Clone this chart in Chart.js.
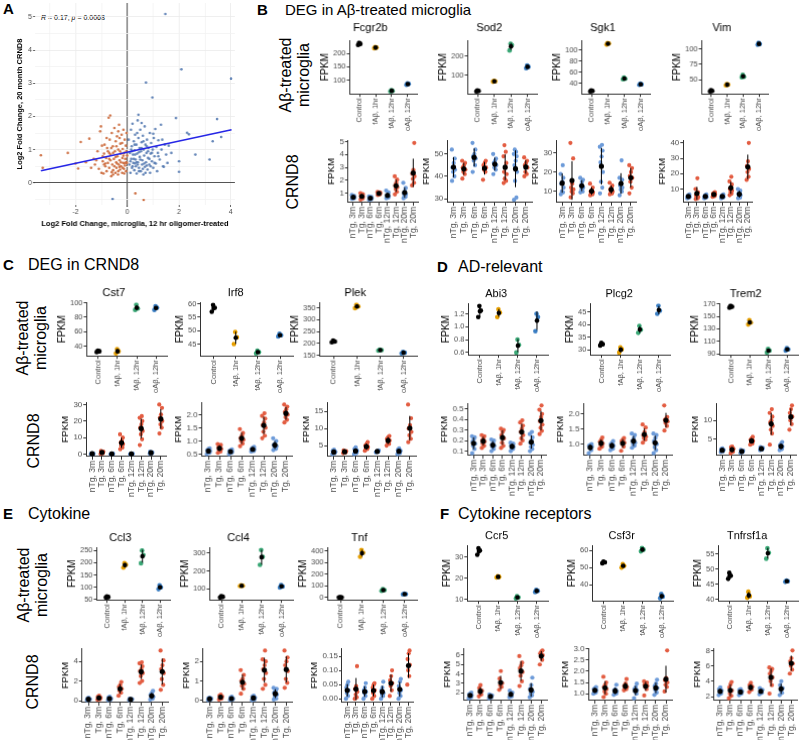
<!DOCTYPE html>
<html>
<head>
<meta charset="utf-8">
<script src="https://cdn.jsdelivr.net/npm/chart.js@4.4.1/dist/chart.umd.min.js"></script>
<style>
body { margin: 0; background: #fff; width: 799px; height: 740px; overflow: hidden; position: relative; font-family: "Liberation Sans", Arial, sans-serif; }
.box { position: absolute; }
.lbl { position: absolute; white-space: nowrap; color: #000; line-height: 1; }
.pl { font-weight: bold; font-size: 15px; }
.hd { font-size: 16px; }
.row { position: absolute; font-size: 16px; line-height: 18px; text-align: center; white-space: nowrap; transform: translate(-50%, -50%) rotate(-90deg); }
.note { position: absolute; font-size: 7px; color: #000; white-space: nowrap; }
</style>
</head>
<body>
<div class="lbl pl" style="left:3px;top:1px">A</div>
<div class="note" style="left:41px;top:14px"><i>R</i> = 0.17, <i>p</i> = 0.0068</div>

<div class="lbl pl" style="left:257px;top:2px">B</div>
<div class="lbl hd" style="left:285px;top:2px;font-size:15px">DEG in Aβ-treated microglia</div>
<div class="row" style="left:295px;top:75px">Aβ-treated<br>microglia</div>
<div class="row" style="left:293px;top:182px">CRND8</div>

<div class="lbl pl" style="left:3px;top:257px">C</div>
<div class="lbl hd" style="left:28px;top:257px">DEG in CRND8</div>
<div class="row" style="left:32px;top:338px">Aβ-treated<br>microglia</div>
<div class="row" style="left:34px;top:441px">CRND8</div>

<div class="lbl pl" style="left:437px;top:259px">D</div>
<div class="lbl hd" style="left:458px;top:259px">AD-relevant</div>

<div class="lbl pl" style="left:3px;top:506px">E</div>
<div class="lbl hd" style="left:28px;top:506px">Cytokine</div>
<div class="row" style="left:33px;top:585px">Aβ-treated<br>microglia</div>
<div class="row" style="left:33px;top:682px">CRND8</div>

<div class="lbl pl" style="left:440px;top:506px">F</div>
<div class="lbl hd" style="left:458px;top:506px">Cytokine receptors</div>

<script>
// Category labels
const mgCats = ['Control', 'fAβ, 1hr', 'fAβ, 12hr', 'oAβ, 12hr'];
const crCats = ['nTg, 3m', 'Tg, 3m', 'nTg, 6m', 'Tg, 6m', 'nTg, 12m', 'Tg, 12m', 'nTg, 20m', 'Tg, 20m'];

// Panel A: log2 fold change, [microglia 12hr oligomer, CRND8 20 month]
const orangePts = [
  [-3.34,0.83],[-3.27,0.45],[-2.3,0.9],[-2.0,0.58],[-1.9,0.43],[-1.8,1.23],[-1.47,1.33],[-1.6,0.62],[-1.4,0.45],[-1.3,0.72],
  [-1.25,0.55],[-1.15,0.95],[-1.1,0.42],[-1.05,1.55],[-1.02,1.7],[-0.98,1.12],[-0.95,0.65],[-0.92,0.28],[-0.9,0.88],[-0.88,1.15],
  [-0.85,0.5],[-0.82,0.75],[-0.8,0.35],[-0.78,1.05],[-0.75,0.6],[-0.72,1.96],[-0.7,0.45],[-0.68,1.3],[-0.66,2.03],[-0.65,0.85],
  [-0.62,0.2],[-0.6,1.5],[-0.58,0.55],[-0.56,1.1],[-0.55,0.38],[-0.52,0.72],[-0.5,1.65],[-0.48,0.95],[-0.46,0.3],[-0.45,1.25],
  [-0.43,0.62],[-0.42,0.45],[-0.4,1.4],[-0.38,0.8],[-0.36,0.25],[-0.35,1.0],[-0.33,0.55],[-0.32,1.75],[-0.3,0.68],[-0.28,0.4],
  [-0.27,1.18],[-0.25,0.88],[-0.24,0.5],[-0.22,1.45],[-0.2,0.3],[-0.19,0.75],[-0.18,1.02],[-0.16,0.6],[-0.15,1.6],[-0.13,0.42],
  [-0.12,0.9],[-0.1,1.3],[-0.09,0.52],[-0.08,0.72],[-0.06,1.12],[-0.05,0.35],[-0.04,0.95],[-0.03,1.5],[-0.02,0.6],[-0.01,0.82],
  [-0.85,0.58],[-0.7,0.72],[-0.55,0.9],[-0.4,0.58],[-0.28,0.95],[-0.62,1.05],[-0.18,0.45],[-0.35,1.55],[-1.2,0.68],[-0.95,0.8],
  [-0.9,0.55],[-0.75,0.95],[-0.6,0.32],[-0.45,0.78],[-0.3,0.48],[-0.15,0.82],[-0.05,0.62],[-0.5,0.5],[-0.25,0.62],[-0.65,0.68],
  [-1.0,0.3],[-0.35,0.35],[-0.2,1.2],[-0.1,0.58],[-0.8,1.35],[-0.42,1.1],[-0.55,0.25],[-0.12,0.28],[-0.7,0.9],[-0.3,1.35],
  [0.31,-0.32],[0.63,-0.52]
];
const bluePts = [
  [-0.57,-0.49],[0.05,1.3],[0.08,0.55],[0.1,0.9],[0.12,0.3],[0.14,1.6],[0.15,0.72],[0.17,1.1],[0.18,0.45],[0.2,1.78],
  [0.22,0.85],[0.23,0.6],[0.25,1.25],[0.27,0.38],[0.28,0.98],[0.3,1.45],[0.32,0.7],[0.33,0.5],[0.35,1.15],[0.36,0.28],
  [0.38,0.88],[0.4,1.88],[0.41,0.62],[0.43,1.35],[0.43,2.05],[0.45,0.45],[0.47,1.05],[0.48,0.78],[0.5,1.6],[0.52,0.35],
  [0.53,0.95],[0.55,1.22],[0.57,0.55],[0.58,0.68],[0.6,1.42],[0.62,0.25],[0.63,1.0],[0.65,0.82],[0.67,1.7],[0.68,0.48],
  [0.7,1.15],[0.72,3.02],[0.72,0.62],[0.74,0.9],[0.76,1.3],[0.78,0.4],[0.8,0.75],[0.82,1.05],[0.85,0.55],[0.87,1.5],
  [0.88,0.3],[0.9,0.88],[0.92,1.2],[0.95,0.65],[0.97,2.57],[0.98,1.0],[1.0,0.45],[1.02,1.35],[1.05,0.8],[1.08,1.62],
  [1.1,0.58],[1.12,1.08],[1.15,0.35],[1.18,0.9],[1.2,1.28],[1.25,0.7],[1.3,1.75],[1.32,1.0],[1.38,0.5],[1.41,0.48],
  [1.45,1.15],[1.47,5.09],[1.5,0.85],[1.55,0.6],[1.6,1.12],[1.7,0.9],[1.88,1.95],[2.0,0.65],[2.0,0.33],[2.09,3.42],
  [2.31,1.51],[2.38,1.46],[2.63,0.85],[3.18,0.70],[3.3,1.25],[3.47,1.92],[3.63,1.38],[4.01,3.14],[0.15,1.0],[0.3,0.58],
  [0.45,0.92],[0.6,0.42],[0.75,1.1],[0.25,0.72],[0.55,1.8],[0.35,0.62],[1.0,1.48],[0.8,0.95],[0.2,0.5],[0.4,0.55],
  [0.5,0.7],[0.65,0.58],[0.85,0.72],[0.3,0.85],[0.55,1.05],[0.7,0.3],[0.95,0.9],[1.05,0.6],[0.12,0.65],[0.38,1.5],
  [0.62,1.25],[0.18,0.95],[0.9,0.5],[1.2,0.8],[0.45,0.35],[0.75,0.52],[1.35,1.3],[0.28,1.15]
];
const fitX = [-3.34, 4.03];
const fitY = [0.36, 1.6];
const aXTicks = [-3, -2, -1, 0, 1, 2, 3, 4];
const aXLabels = ['', '-2', '', '0', '', '2', '', '4'];
const aYTicks = [-0.5, 0, 0.5, 1, 1.5, 2, 2.5, 3, 3.5, 4, 4.5, 5];
const aYLabels = ['', '0', '', '1', '', '2', '', '3', '', '4', '', '5'];
const aXRange = [-3.57, 4.16];
const aYRange = [-0.67, 5.42];

// B: DEG in Abeta-treated microglia (FPKM per group)
const fcgr2bMg = [[232,236,240],[220,222,224],[58,60,63],[83,86,88]];
const sod2Mg = [[17,20,23],[68,70,72],[230,258,265],[138,145,152]];
const sgk1Mg = [[25,26,27],[110,112,113],[47,48,50],[37,38,39]];
const vimMg = [[31,32,33],[41,42,43],[54,55,58],[107,108,110]];
const fcgr2bMgY = [100,150,200];
const sod2MgY = [100,200];
const sgk1MgY = [40,60,80,100];
const vimMgY = [50,75,100];

const fcgr2bCr = [
  [0.55,0.6,0.62,0.65,0.68,0.72,0.78,0.85],[0.5,0.58,0.65,0.72,0.78,0.85,0.92,1.0],
  [0.48,0.52,0.56,0.6,0.63,0.66,0.7,0.75],[0.85,0.9,0.95,0.98,1.0,1.03,1.06,1.1],
  [0.6,0.65,0.7,0.75,0.8,0.88,1.05,1.2],[0.9,1.1,1.3,1.45,1.6,1.8,2.05,2.3],
  [0.6,0.7,0.8,0.9,1.0,1.15,1.4,1.8],[1.6,1.8,2.1,2.3,2.5,2.8,4.9]];
const sod2Cr = [
  [38,40,42,43,44,46,48,52],[39,41,42,43,44,45,46,47],[42,45,47,48,49,50,52,55],[38.5,42,43,44,45,46,47],
  [41,43,44,45,46,47,48,50],[37,38,39,41,42,44,46,49,51,54],[29.5,30.5,38,42,45,47,49,50,51,52],[40,41,42,44,45,46,47,48.5]];
const sgk1Cr = [
  [8.5,9.5,10,12,14,15,17,19,23.5],[7,9,10,11,12,14,27,35],[9.5,10,11,12,13,15,16,17],[8,8.5,9,9.5,10,10.5,12,14],
  [9,12,15,20,25,28,31,33,34],[8.5,9,9.5,10,11,12,13,14.5],[8,10,11,12,13,14,16,17,26],[9,12,15,17,18,20,22,23.5]];
const vimCr = [
  [4,4.5,5,5,5.5,6,6.5],[3.5,4,4.5,5,6,7,8,10,17],[4,4.5,5,5,5.5,6,6.5],[5,5.5,6,6.5,7,7.5,8],
  [4,4.5,5,5,5.5,6,6.5],[6,7,8,9,10,11,13,15,18],[4,4.5,5,6,7,8,9,10],[16,18,21,23,25,28,40]];
const fcgr2bCrY = [1,2,3,4,5];
const sod2CrY = [30,40,50];
const sgk1CrY = [10,20,30];
const vimCrY = [10,20,30,40];

// C: DEG in CRND8
const cst7Mg = [[32,33,34],[30,33,36],[90,92,97],[90,93,95]];
const irf8Mg = [[57,58.5,59.5],[45,47.5,49.5],[41.5,42,42.5],[47.8,48.3,48.8]];
const plekMg = [[205,208,212],[348,355,362],[170,172,174],[158,161,164]];
const cst7MgY = [40,60,80,100];
const irf8MgY = [45,50,55,60];
const plekMgY = [150,200,250,300,350];

const cst7Cr = [
  [0,0.1,0.2,0.3,0.4],[0.2,0.5,1,1.5,2],[0,0.1,0.2,0.3],[3,4,5,6,7,8,10,12],
  [0,0.1,0.2,0.3],[5.5,9,12,14,16,18,20,22,23],[0.3,0.5,0.8,1,1.5],[12.5,16,18,20,22,24,28,30]];
const irf8Cr = [
  [0.5,0.55,0.6,0.62,0.65,0.7,0.72],[0.55,0.6,0.65,0.7,0.75,0.8,0.85,0.88],[0.5,0.55,0.58,0.6,0.62,0.65,0.68],
  [0.8,0.9,1.0,1.05,1.1,1.2,1.3,1.45],[0.6,0.62,0.65,0.68,0.7,0.75,0.78],[1.1,1.2,1.35,1.5,1.6,1.7,1.85,1.95,2.05],
  [0.65,0.7,0.75,0.8,0.85,0.9,1.0,1.1],[1.7,1.8,1.9,2.0,2.1,2.2,2.3,2.38]];
const plekCr = [
  [2.5,2.8,3,3.2,3.5,3.8],[2.8,3,3.2,3.4,3.6],[2.5,2.8,3.2,3.5,4,4.5],[3.5,4,4.3,4.6,5,5.5,6],
  [3,3.2,3.4,3.6],[5,5.5,6,6.5,7,7.5,7.8],[2.5,2.8,3.2,3.5,3.8,4.2],[6,7,8,9,10,11,13,17]];
const cst7CrY = [0,10,20,30];
const irf8CrY = [0.5,1.0,1.5,2.0];
const plekCrY = [5,10,15];

// D: AD-relevant
const abi3Mg = [[1.15,1.25,1.32],[1.15,1.22,1.27],[0.6,0.72,0.8],[0.93,1.15,1.2]];
const plcg2Mg = [[31.8,32.3,32.8],[29,30.3,31],[36.8,38,39.5],[44.3,45.5,47.5]];
const trem2Mg = [[164,165.5,167],[137,140,144],[92,95,98],[95,97,99]];
const abi3MgY = [0.6,0.8,1.0,1.2];
const plcg2MgY = [30,35,40,45];
const trem2MgY = [90,110,130,150,170];

const abi3Cr = [
  [0.08,0.12,0.15,0.17,0.19,0.21,0.23,0.24],[0.13,0.15,0.17,0.19,0.2,0.22,0.24,0.25],
  [0.1,0.12,0.14,0.15,0.16,0.18,0.2,0.21],[0.13,0.15,0.18,0.22,0.25,0.28,0.3,0.31],
  [0.1,0.12,0.13,0.14,0.15,0.16,0.17,0.18],[0.17,0.2,0.22,0.25,0.28,0.31,0.34,0.37,0.39],
  [0.1,0.12,0.14,0.16,0.18,0.2,0.23,0.26,0.28],[0.26,0.29,0.32,0.35,0.38,0.42,0.45,0.49,0.53]];
const plcg2Cr = [
  [0.7,0.8,0.88,0.92,0.95,0.98,1.0],[0.85,0.92,0.98,1.02,1.08,1.15,1.22],[0.8,0.85,0.9,0.95,1.0,1.05,1.1],
  [0.78,0.92,1.0,1.05,1.1,1.15,1.2],[0.88,0.95,1.0,1.05,1.1,1.2,1.3,1.35],[1.05,1.15,1.2,1.25,1.3,1.4,1.55,1.65],
  [0.7,0.8,0.9,1.0,1.1,1.2,1.3,1.35],[1.45,1.6,1.7,1.75,1.8,1.85,1.9,2.28]];
const trem2Cr = [
  [1.5,1.7,1.9,2.1,2.3,2.5],[1.2,1.6,2,2.4,2.8,3],[1.3,1.5,1.7,1.9,2.1],[3.5,3.8,4.2,4.5,4.8,5.2,5.6],
  [2.0,2.2,2.4,2.6,2.8],[3.5,6.5,7.5,8.5,9.5,10,11,12,13],[2,2.3,2.6,3,3.4,3.8,4.2],[7.5,9,10,11,12,13,14]];
const abi3CrY = [0.1,0.2,0.3,0.4,0.5];
const plcg2CrY = [1.0,1.5,2.0];
const trem2CrY = [5,10];

// E: Cytokine
const ccl3Mg = [[58,60,62],[180,192,198],[198,232,250],[92,100,108]];
const ccl4Mg = [[52,56,60],[116,118,120],[235,280,318],[108,114,122]];
const tnfMg = [[1,2,3],[350,385,408],[58,65,72],[28,30,33]];
const ccl3MgY = [50,100,150,200,250];
const ccl4MgY = [100,200,300];
const tnfMgY = [0,100,200,300,400];

const ccl3Cr = [
  [0.05,0.1,0.12,0.15,0.2,0.3],[0.1,0.15,0.2,0.3,0.4,0.5],[0.05,0.1,0.15,0.2,0.3,0.4],[0.5,0.8,1,1.2,1.4,1.6,1.9],
  [0.05,0.1,0.12,0.15,0.2],[1.8,2.0,2.5,2.8,3,3.2,3.5,3.8,3.9],[0.1,0.2,0.3,0.4,0.6,0.8,1.0],[1.1,1.6,2.2,2.8,3.2,3.6,4.1,5.1]];
const ccl4Cr = [
  [0.02,0.05,0.08,0.1,0.12,0.15],[0.05,0.1,0.15,0.2,0.25,0.3],[0.02,0.05,0.08,0.1,0.15,0.2],[0.35,0.6,0.75,0.85,1.0,1.1,1.3,1.55],
  [0.02,0.05,0.1,0.15,0.2,0.25],[0.6,0.8,1.1,1.4,1.6,1.8,2.0,2.1,2.55],[0.05,0.1,0.2,0.3,0.4,0.5,0.6,0.65],[0.65,0.9,1.1,1.5,1.8,2.0,2.2,2.55]];
const tnfCr = [
  [0,0.01,0.02,0.03,0.04,0.05,0.06],[0,0.005,0.015,0.025,0.035,0.045,0.115],[0,0.01,0.02,0.025,0.03,0.04,0.055],
  [0,0.01,0.02,0.03,0.04,0.05,0.055],[0,0.01,0.015,0.02,0.03,0.04,0.06],[0.01,0.03,0.045,0.055,0.065,0.08,0.1],
  [0,0.01,0.02,0.03,0.045,0.06,0.07],[0.05,0.08,0.1,0.12,0.14,0.16,0.17]];
const ccl3CrY = [0,1,2,3,4,5];
const ccl4CrY = [0,1,2];
const tnfCrY = [0,0.05,0.10,0.15];

// F: Cytokine receptors
const ccr5Mg = [[31,33,34],[20.3,20.6,20.9],[10.5,11,11.5],[13.5,14,14.5]];
const csf3rMg = [[52.5,53,53.5],[50,51,52],[59.5,60.5,61.5],[32,33,34.5]];
const tnfrsf1aMg = [[46.8,47.8,48.8],[40.5,41,42.5],[53.5,55.5,57],[45.8,46,46.2]];
const ccr5MgY = [10,15,20,25,30,35];
const csf3rMgY = [40,50,60];
const tnfrsf1aMgY = [40,45,50,55];

const ccr5Cr = [
  [1.4,1.5,1.6,1.7,1.8,1.9,2.0],[1.6,1.8,2,2.2,2.5,2.8],[1.4,1.5,1.6,1.7,1.8],[2.3,2.6,2.8,3,3.5,4.3],
  [1.5,1.6,1.8,2,2.2],[2.7,3.2,3.8,4.2,4.6,4.9,5.2,5.9],[1.5,1.7,1.9,2.1,2.4,2.8,3.6],[5,5.5,5.8,6,6.2,6.4,6.5]];
const csf3rCr = [
  [1.0,1.05,1.1,1.15,1.2,1.25,1.3],[0.85,1.0,1.1,1.2,1.3,1.4,1.5,1.75],[0.95,1.0,1.05,1.1,1.15,1.2,1.4],
  [1.15,1.2,1.25,1.3,1.35,1.45,1.65],[0.8,1.0,1.1,1.15,1.2,1.3,1.45],[0.92,1.2,1.3,1.35,1.4,1.45,1.5,1.55],
  [0.95,1.05,1.15,1.25,1.35,1.45,1.62],[1.1,1.3,1.4,1.5,1.6,1.7,2.92]];
const tnfrsf1aCr = [
  [2.2,2.4,2.6,2.8,3.0,3.2],[1.8,2.1,2.4,2.8,3.2,3.6,3.9],[2.2,2.4,2.5,2.7,2.9,3.0],[2.6,2.9,3.1,3.3,3.5,3.8],
  [2.3,2.5,2.7,2.9,3.1],[2.4,3.5,4,4.5,5,5.3,5.6,5.8],[2.2,2.5,2.8,3.1,3.5,4],[5,5.5,6,6.3,6.6,7,8]];
const ccr5CrY = [2,3,4,5,6];
const csf3rCrY = [1.0,1.5,2.0,2.5,3.0];
const tnfrsf1aCrY = [2,4,6,8];

// Colours
const mgColors = ['#000000', '#E69F00', '#3AA876', '#3B7FC4'];
const crColors = ['#6D9BD9', '#E35D42'];
const JIT = [-0.14, 0.09, -0.04, 0.15, -0.1, 0.02, 0.12, -0.16, 0.06, -0.07];
const FONT = '"Liberation Sans", Arial, sans-serif';
Chart.defaults.font.family = FONT;

// Where each small plot's panel area goes: [title, data, ticks, left, right, top, bottom, titlePad]
const panels = [
  ['Fcgr2b', fcgr2bMg, fcgr2bMgY, 350, 417, 40, 93, 6],
  ['Sod2', sod2Mg, sod2MgY, 468, 537, 40, 93, 6],
  ['Sgk1', sgk1Mg, sgk1MgY, 582, 650, 40, 93, 6],
  ['Vim', vimMg, vimMgY, 702, 768, 40, 93, 6],
  ['', fcgr2bCr, fcgr2bCrY, 348, 420, 140, 202],
  ['', sod2Cr, sod2CrY, 447, 533, 140, 202],
  ['', sgk1Cr, sgk1CrY, 556, 638, 140, 202],
  ['', vimCr, vimCrY, 683, 755, 140, 202],

  ['Cst7', cst7Mg, cst7MgY, 87, 167, 302, 355, 3],
  ['Irf8', irf8Mg, irf8MgY, 200, 293, 302, 355, 3],
  ['Plek', plekMg, plekMgY, 320, 417, 302, 355, 3],
  ['', cst7Cr, cst7CrY, 86, 168, 402, 456],
  ['', irf8Cr, irf8CrY, 202, 293, 402, 456],
  ['', plekCr, plekCrY, 327, 417, 402, 456],

  ['Abi3', abi3Mg, abi3MgY, 468, 548, 303, 354, 3],
  ['Plcg2', plcg2Mg, plcg2MgY, 590, 670, 303, 354, 3],
  ['Trem2', trem2Mg, trem2MgY, 720, 798, 303, 354, 3],
  ['', abi3Cr, abi3CrY, 468, 548, 403, 455],
  ['', plcg2Cr, plcg2CrY, 584, 673, 403, 455],
  ['', trem2Cr, trem2CrY, 716, 798, 403, 455],

  ['Ccl3', ccl3Mg, ccl3MgY, 97, 170, 547, 599, 3],
  ['Ccl4', ccl4Mg, ccl4MgY, 210, 293, 547, 599, 3],
  ['Tnf', tnfMg, tnfMgY, 328, 417, 547, 599, 3],
  ['', ccl3Cr, ccl3CrY, 82, 169, 648, 702],
  ['', ccl4Cr, ccl4CrY, 203, 293, 648, 702],
  ['', tnfCr, tnfCrY, 342, 416, 648, 702],

  ['Ccr5', ccr5Mg, ccr5MgY, 467, 548, 545, 600, 3],
  ['Csf3r', csf3rMg, csf3rMgY, 592, 673, 545, 600, 3],
  ['Tnfrsf1a', tnfrsf1aMg, tnfrsf1aMgY, 718, 798, 545, 600, 3],
  ['', ccr5Cr, ccr5CrY, 464, 548, 648, 700],
  ['', csf3rCr, csf3rCrY, 589, 673, 648, 700],
  ['', tnfrsf1aCr, tnfrsf1aCrY, 714, 798, 648, 700]
];

// Make a positioned wrapper + canvas
function makeBox() {
    const wrap = document.createElement('div');
    wrap.className = 'box';
    wrap.style.width = '160px';
    wrap.style.height = '160px';
    const cv = document.createElement('canvas');
    wrap.appendChild(cv);
    document.body.appendChild(wrap);
    return [wrap, cv];
}

// Resize and move the chart so its plot area lands on the given rectangle
function place(chart, wrap, left, right, top, bottom) {
    const a = chart.chartArea;
    const extraW = chart.width - (a.right - a.left);
    const extraH = chart.height - (a.bottom - a.top);
    wrap.style.width = (right - left + extraW) + 'px';
    wrap.style.height = (bottom - top + extraH) + 'px';
    chart.resize();
    const b = chart.chartArea;
    wrap.style.left = (left - b.left) + 'px';
    wrap.style.top = (top - b.top) + 'px';
}

function meanSd(vals) {
    const n = vals.length;
    const m = vals.reduce((s, v) => s + v, 0) / n;
    const sd = Math.sqrt(vals.reduce((s, v) => s + (v - m) * (v - m), 0) / (n - 1));
    return [m, sd];
}

const axisGrid = { drawOnChartArea: false, drawTicks: true, tickLength: 3, tickColor: '#333', lineWidth: 1 };
const axisBorder = { display: true, color: '#333', width: 1 };

function geneChart(p) {
    const [name, groups, yTicks, left, right, top, bottom, titlePad] = p;
    const isMg = groups.length === 4;
    const cats = isMg ? mgCats : crCats;
    const pts = [], cols = [], means = [], bars = [];
    let lo = Infinity, hi = -Infinity;
    groups.forEach((vals, g) => {
        const col = isMg ? mgColors[g] : crColors[g % 2];
        vals.forEach((v, j) => {
            pts.push({ x: g + JIT[j % JIT.length] * (isMg ? 0.6 : 1), y: v });
            cols.push(col);
            lo = Math.min(lo, v); hi = Math.max(hi, v);
        });
        const [m, sd] = meanSd(vals);
        means.push({ x: g, y: m });
        bars.push({ x: g, y: m - sd }, { x: g, y: m + sd }, { x: g, y: null });
        lo = Math.min(lo, m - sd); hi = Math.max(hi, m + sd);
    });
    const pad = (hi - lo) * 0.05;
    const yMin = lo - pad, yMax = hi + pad;
    const dec = Math.max(...yTicks.map(v => (String(v).split('.')[1] || '').length));

    const [wrap, cv] = makeBox();
    const chart = new Chart(cv, {
        type: 'scatter',
        data: {
            datasets: [
                { data: means, backgroundColor: '#000', borderWidth: 0, pointRadius: isMg ? 2.3 : 2.6, order: 0 },
                { data: bars, showLine: true, spanGaps: false, borderColor: '#000', borderWidth: 1, pointRadius: 0, order: 1 },
                { data: pts, backgroundColor: cols, borderWidth: 0, pointRadius: isMg ? 2.3 : 2.1, order: 2 }
            ]
        },
        options: {
            animation: false,
            responsive: true,
            maintainAspectRatio: false,
            events: [],
            layout: { padding: { top: isMg ? 0 : 6, right: 0, bottom: 0, left: 0 } },
            plugins: {
                legend: { display: false },
                tooltip: { enabled: false },
                title: {
                    display: isMg, text: name, color: '#000',
                    font: { size: 11, weight: 'normal' }, padding: { top: 0, bottom: titlePad || 3 }
                }
            },
            scales: {
                x: {
                    type: 'linear', min: -0.6, max: cats.length - 0.4,
                    afterBuildTicks: s => { s.ticks = cats.map((c, i) => ({ value: i })); },
                    ticks: {
                        autoSkip: false, minRotation: 90, maxRotation: 90, padding: 1,
                        color: '#4D4D4D', font: { size: isMg ? 7.5 : 8.5 },
                        callback: v => cats[v]
                    },
                    grid: axisGrid, border: axisBorder
                },
                y: {
                    type: 'linear', min: yMin, max: yMax,
                    afterBuildTicks: s => { s.ticks = yTicks.filter(v => v >= yMin && v <= yMax).map(v => ({ value: v })); },
                    ticks: { padding: 1, color: '#4D4D4D', font: { size: isMg ? 7.5 : 8 }, callback: v => v.toFixed(dec) },
                    title: { display: true, text: 'FPKM', color: '#000', font: { size: isMg ? 10 : 9.5 }, padding: { top: 0, bottom: 1 } },
                    grid: axisGrid, border: axisBorder
                }
            }
        }
    });
    place(chart, wrap, left, right, top, bottom);
}

// Panel A scatter
function scatterA() {
    const [wrap, cv] = makeBox();
    const chart = new Chart(cv, {
        type: 'scatter',
        data: {
            datasets: [
                { data: fitX.map((x, i) => ({ x: x, y: fitY[i] })), showLine: true, borderColor: '#2525E6', borderWidth: 1.6, pointRadius: 0, order: 0 },
                { data: orangePts.map(p => ({ x: p[0], y: p[1] })), backgroundColor: 'rgba(204,106,60,0.9)', borderWidth: 0, pointRadius: 1.3, order: 1 },
                { data: bluePts.map(p => ({ x: p[0], y: p[1] })), backgroundColor: 'rgba(88,124,178,0.9)', borderWidth: 0, pointRadius: 1.3, order: 1 }
            ]
        },
        options: {
            animation: false,
            responsive: true,
            maintainAspectRatio: false,
            events: [],
            layout: { padding: { top: 8, right: 0, bottom: 0, left: 0 } },
            plugins: { legend: { display: false }, tooltip: { enabled: false } },
            scales: {
                x: {
                    type: 'linear', min: aXRange[0], max: aXRange[1],
                    afterBuildTicks: s => { s.ticks = aXTicks.map(v => ({ value: v })); },
                    ticks: { autoSkip: false, maxRotation: 0, padding: 1, color: '#4D4D4D', font: { size: 7 }, callback: (v, i) => aXLabels[i] },
                    grid: {
                        color: c => c.tick && c.tick.value === 0 ? '#555' : (aXLabels[c.index] ? '#EBEBEB' : '#F3F3F3'),
                        lineWidth: c => c.tick && c.tick.value === 0 ? 1.1 : 0.8,
                        tickLength: 2,
                        tickColor: c => aXLabels[c.index] ? '#444' : 'rgba(0,0,0,0)'
                    },
                    border: { display: false },
                    title: { display: true, text: 'Log2 Fold Change, microglia, 12 hr oligomer-treated', color: '#000', font: { size: 7.5, weight: 'bold' }, padding: { top: 2, bottom: 0 } }
                },
                y: {
                    type: 'linear', min: aYRange[0], max: aYRange[1],
                    afterBuildTicks: s => { s.ticks = aYTicks.map(v => ({ value: v })); },
                    ticks: { padding: 1, color: '#4D4D4D', font: { size: 7 }, callback: (v, i) => aYLabels[i] },
                    grid: {
                        color: c => c.tick && c.tick.value === 0 ? '#555' : (aYLabels[c.index] ? '#EBEBEB' : '#F3F3F3'),
                        lineWidth: c => c.tick && c.tick.value === 0 ? 1.1 : 0.8,
                        tickLength: 2,
                        tickColor: c => aYLabels[c.index] ? '#444' : 'rgba(0,0,0,0)'
                    },
                    border: { display: false },
                    title: { display: true, text: 'Log2 Fold Change, 20 month CRND8', color: '#000', font: { size: 7.5, weight: 'bold' }, padding: { top: 0, bottom: 3 } }
                }
            }
        }
    });
    place(chart, wrap, 35, 234, 3, 205);
}

scatterA();
panels.forEach(geneChart);
</script>
</body>
</html>
